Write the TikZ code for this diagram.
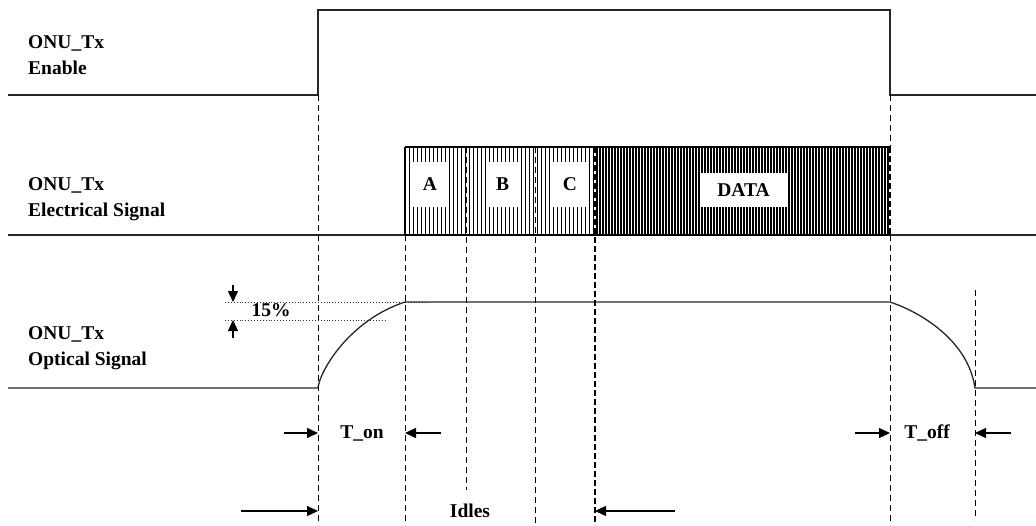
\documentclass[tikz,border=0pt]{standalone}
\usepackage{fontspec}
\setmainfont{Liberation Serif}
\usetikzlibrary{arrows.meta}
\begin{document}
\begin{tikzpicture}[x=1pt,y=-1pt,
  sig/.style={line width=1.3pt,black!85},
  vdash/.style={line width=1pt,dash pattern=on 6pt off 4pt},
  vdashb/.style={line width=1.7pt,dash pattern=on 6pt off 3pt},
  lbl/.style={font=\fontsize{19.5}{26}\selectfont\bfseries,align=left,anchor=west,inner sep=0pt},
  txt/.style={font=\fontsize{19.5}{22}\selectfont\bfseries,inner sep=0pt},
  wbox/.style={fill=white,inner sep=0pt,font=\fontsize{19.5}{22}\selectfont\bfseries},
  arr/.style={-{Triangle[length=11pt,width=10pt]},line width=1.2pt},
  dots/.style={dotted,line width=0.9pt,black!80}]
\useasboundingbox (0,0) rectangle (1036,525);

% labels
\node[lbl] (l1) at (28,55) {ONU\_Tx\\Enable};
\node[lbl] (l2) at (28,199) {ONU\_Tx\\Electrical Signal};
\node[lbl] (l3) at (28,348) {ONU\_Tx\\Optical Signal};

% enable signal
\coordinate (e0) at (8,95);
\coordinate (e1) at (318,95);
\coordinate (e2) at (318,10);
\coordinate (e3) at (890,10);
\coordinate (e4) at (890,95);
\coordinate (e5) at (1036,95);
\draw[sig] (e0) -- (e1) -- (e2) -- (e3) -- (e4) -- (e5);

% electrical signal
\coordinate (b0) at (8,235);
\coordinate (bl) at (405,235);
\coordinate (br) at (890,235);
\coordinate (b5) at (1036,235);
\coordinate (tl) at (405,147);
\coordinate (tr) at (890,147);
\draw[sig] (b0) -- (bl);
\draw[sig] (br) -- (b5);
\foreach \x in {409,413,...,594} \draw[line width=0.9pt] (\x,147) -- (\x,235);
\foreach \x in {597,600,...,888} \draw[line width=1.2pt] (\x,147) -- (\x,235);
\draw[line width=1.2pt] (tl) -- (tr);
\draw[line width=1.2pt] (tl) -- (bl);
\draw[line width=1.8pt] (bl) -- (br);
\node[wbox,minimum width=36pt,minimum height=45pt] (A) at (430,184.5) {A};
\node[wbox,minimum width=31pt,minimum height=45pt] (B) at (502.5,184.5) {B};
\node[wbox,minimum width=36pt,minimum height=45pt] (C) at (570,184.5) {C};
\node[wbox,minimum width=87pt,minimum height=34pt] (D) at (743.5,190) {DATA};

% optical signal
\coordinate (o0) at (8,388);
\coordinate (o1) at (318,388);
\coordinate (o2) at (405,302);
\coordinate (o3) at (890,302);
\coordinate (o4) at (975,388);
\coordinate (o5) at (1036,388);
\draw[sig] (o0) -- (o1) .. controls (320,370) and (350,320) .. (o2) -- (o3)
  .. controls (920,312) and (968,340) .. (o4) -- (o5);

% vertical dashed guides
\coordinate (v1b) at (318,525);
\coordinate (v2b) at (405,525);
\coordinate (v3t) at (466,147);
\coordinate (v3b) at (466,490);
\coordinate (v4t) at (535,147);
\coordinate (v4b) at (535,525);
\coordinate (v5t) at (595,147);
\coordinate (v5b) at (595,525);
\coordinate (v6b) at (890,525);
\coordinate (v7t) at (975,290);
\coordinate (v7b) at (975,520);
\draw[vdash] (e1) -- (v1b);
\draw[vdash] (bl) -- (v2b);
\draw[vdash] (v3t) -- (v3b);
\draw[vdash] (v4t) -- (v4b);
\draw[vdashb] (v5t) -- (v5b);
\draw[vdashb] (tr) -- (br);
\draw[vdash] (e4) -- (tr);
\draw[vdash] (br) -- (v6b);
\draw[vdash] (v7t) -- (v7b);

% 15% marker
\coordinate (d1a) at (225,302);
\coordinate (d1b) at (430,302);
\coordinate (d2a) at (225,320);
\coordinate (d2b) at (387,320);
\draw[dots] (d1a) -- (d1b);
\draw[dots] (d2a) -- (d2b);
\coordinate (a1s) at (233,285);
\coordinate (a1e) at (233,302);
\coordinate (a2s) at (233,338);
\coordinate (a2e) at (233,320);
\draw[arr] (a1s) -- (a1e);
\draw[arr] (a2s) -- (a2e);
\node[txt] (pct) at (271,310) {15\%};

% timing labels
\node[txt] (ton) at (362,433) {T\_on};
\coordinate (ton1) at (284,433);
\coordinate (ton2) at (318,433);
\coordinate (ton3) at (441,433);
\coordinate (ton4) at (405,433);
\draw[arr] (ton1) -- (ton2);
\draw[arr] (ton3) -- (ton4);

\node[txt] (toff) at (927,433) {T\_off};
\coordinate (tof1) at (855,433);
\coordinate (tof2) at (890,433);
\coordinate (tof3) at (1011,433);
\coordinate (tof4) at (975,433);
\draw[arr] (tof1) -- (tof2);
\draw[arr] (tof3) -- (tof4);

\node[txt] (idl) at (470,511) {Idles};
\coordinate (id1) at (241,511);
\coordinate (id2) at (318,511);
\coordinate (id3) at (675,511);
\coordinate (id4) at (595,511);
\draw[arr] (id1) -- (id2);
\draw[arr] (id3) -- (id4);
\end{tikzpicture}
\end{document}
